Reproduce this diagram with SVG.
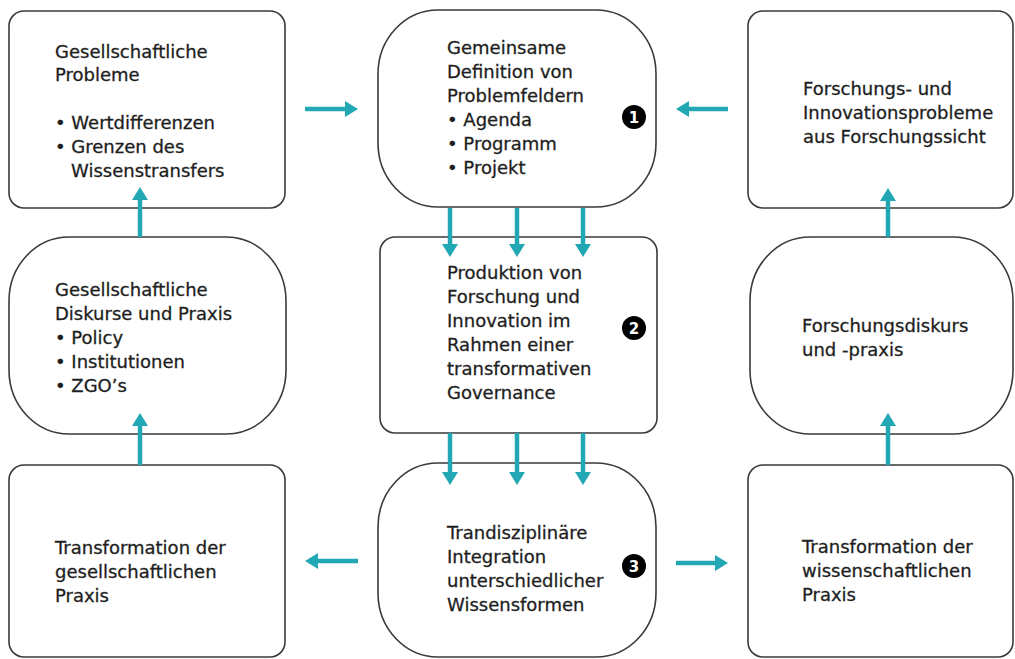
<svg xmlns="http://www.w3.org/2000/svg" width="1015" height="659" viewBox="0 0 1015 659">
  <style>
    .box { fill: #ffffff; stroke: #3a3a3a; stroke-width: 1.6; }
    .t { font-family: "DejaVu Sans", "Liberation Sans", sans-serif; font-size: 18px; fill: #1e1e1e; stroke: #1e1e1e; stroke-width: 0.3; }
    .arr { stroke: #22a7b4; stroke-width: 4.5; fill: none; marker-end: url(#ah); }
    .badge { fill: #000000; }
    .bt { font-family: "DejaVu Sans", "Liberation Sans", sans-serif; font-size: 15px; font-weight: bold; fill: #ffffff; text-anchor: middle; }
  </style>
  <defs>
    <marker id="ah" markerUnits="userSpaceOnUse" markerWidth="14" markerHeight="16" refX="4" refY="8" orient="auto">
      <path d="M0,0 L13,8 L0,16 z" fill="#22a7b4"/>
    </marker>
  </defs>
  <rect width="1015" height="659" fill="#ffffff"/>

  <g id="node-gesellschaftliche-probleme">
    <rect class="box" x="9" y="11" width="276" height="197" rx="15" ry="15"/>
    <text class="t" x="55" y="58">Gesellschaftliche</text>
    <text class="t" x="55" y="81">Probleme</text>
    <text class="t" x="55" y="129">• Wertdifferenzen</text>
    <text class="t" x="55" y="153">• Grenzen des</text>
    <text class="t" x="71" y="177">Wissenstransfers</text>
  </g>

  <g id="node-gesellschaftliche-diskurse">
    <rect class="box" x="9" y="237" width="277" height="197" rx="60" ry="64"/>
    <text class="t" x="55" y="296">Gesellschaftliche</text>
    <text class="t" x="55" y="320">Diskurse und Praxis</text>
    <text class="t" x="55" y="344">• Policy</text>
    <text class="t" x="55" y="368">• Institutionen</text>
    <text class="t" x="55" y="392">• ZGO’s</text>
  </g>

  <g id="node-transformation-gesellschaftlich">
    <rect class="box" x="9" y="465" width="276" height="192" rx="15" ry="15"/>
    <text class="t" x="55" y="554">Transformation der</text>
    <text class="t" x="55" y="578">gesellschaftlichen</text>
    <text class="t" x="55" y="602">Praxis</text>
  </g>

  <g id="node-1-definition">
    <rect class="box" x="378" y="10" width="278" height="197" rx="60" ry="64"/>
    <text class="t" x="447" y="54">Gemeinsame</text>
    <text class="t" x="447" y="78">Definition von</text>
    <text class="t" x="447" y="102">Problemfeldern</text>
    <text class="t" x="447" y="126">• Agenda</text>
    <text class="t" x="447" y="150">• Programm</text>
    <text class="t" x="447" y="174">• Projekt</text>
    <circle class="badge" cx="634" cy="117" r="12"/>
    <text class="bt" x="634" y="122.5">1</text>
  </g>

  <g id="node-2-produktion">
    <rect class="box" x="380" y="237" width="277" height="196" rx="15" ry="15"/>
    <text class="t" x="447" y="279">Produktion von</text>
    <text class="t" x="447" y="303">Forschung und</text>
    <text class="t" x="447" y="327">Innovation im</text>
    <text class="t" x="447" y="351">Rahmen einer</text>
    <text class="t" x="447" y="375">transformativen</text>
    <text class="t" x="447" y="399">Governance</text>
    <circle class="badge" cx="634" cy="328" r="12"/>
    <text class="bt" x="634" y="333.5">2</text>
  </g>

  <g id="node-3-integration">
    <rect class="box" x="378" y="463" width="278" height="194" rx="60" ry="64"/>
    <text class="t" x="447" y="539">Trandisziplinäre</text>
    <text class="t" x="447" y="563">Integration</text>
    <text class="t" x="447" y="587">unterschiedlicher</text>
    <text class="t" x="447" y="611">Wissensformen</text>
    <circle class="badge" cx="634" cy="566" r="12"/>
    <text class="bt" x="634" y="571.5">3</text>
  </g>

  <g id="node-forschungsprobleme">
    <rect class="box" x="748" y="11" width="265" height="197" rx="15" ry="15"/>
    <text class="t" x="803" y="95">Forschungs- und</text>
    <text class="t" x="803" y="119">Innovationsprobleme</text>
    <text class="t" x="803" y="143">aus Forschungssicht</text>
  </g>

  <g id="node-forschungsdiskurs">
    <rect class="box" x="750" y="237" width="263" height="197" rx="60" ry="64"/>
    <text class="t" x="802" y="332">Forschungsdiskurs</text>
    <text class="t" x="802" y="356">und -praxis</text>
  </g>

  <g id="node-transformation-wissenschaftlich">
    <rect class="box" x="748" y="465" width="265" height="192" rx="15" ry="15"/>
    <text class="t" x="802" y="553">Transformation der</text>
    <text class="t" x="802" y="577">wissenschaftlichen</text>
    <text class="t" x="802" y="601">Praxis</text>
  </g>

  <g id="connectors">
    <line class="arr" x1="305" y1="109" x2="349" y2="109"/>
    <line class="arr" x1="728" y1="109" x2="685" y2="109"/>
    <line class="arr" x1="450" y1="208" x2="450" y2="248"/>
    <line class="arr" x1="517" y1="208" x2="517" y2="248"/>
    <line class="arr" x1="583" y1="208" x2="583" y2="248"/>
    <line class="arr" x1="450" y1="433" x2="450" y2="476"/>
    <line class="arr" x1="517" y1="433" x2="517" y2="476"/>
    <line class="arr" x1="583" y1="433" x2="583" y2="476"/>
    <line class="arr" x1="140" y1="237" x2="140" y2="196"/>
    <line class="arr" x1="140" y1="465" x2="140" y2="422"/>
    <line class="arr" x1="888" y1="237" x2="888" y2="197"/>
    <line class="arr" x1="888" y1="465" x2="888" y2="422"/>
    <line class="arr" x1="358" y1="561" x2="314" y2="561"/>
    <line class="arr" x1="676" y1="563" x2="719" y2="563"/>
  </g>
</svg>
